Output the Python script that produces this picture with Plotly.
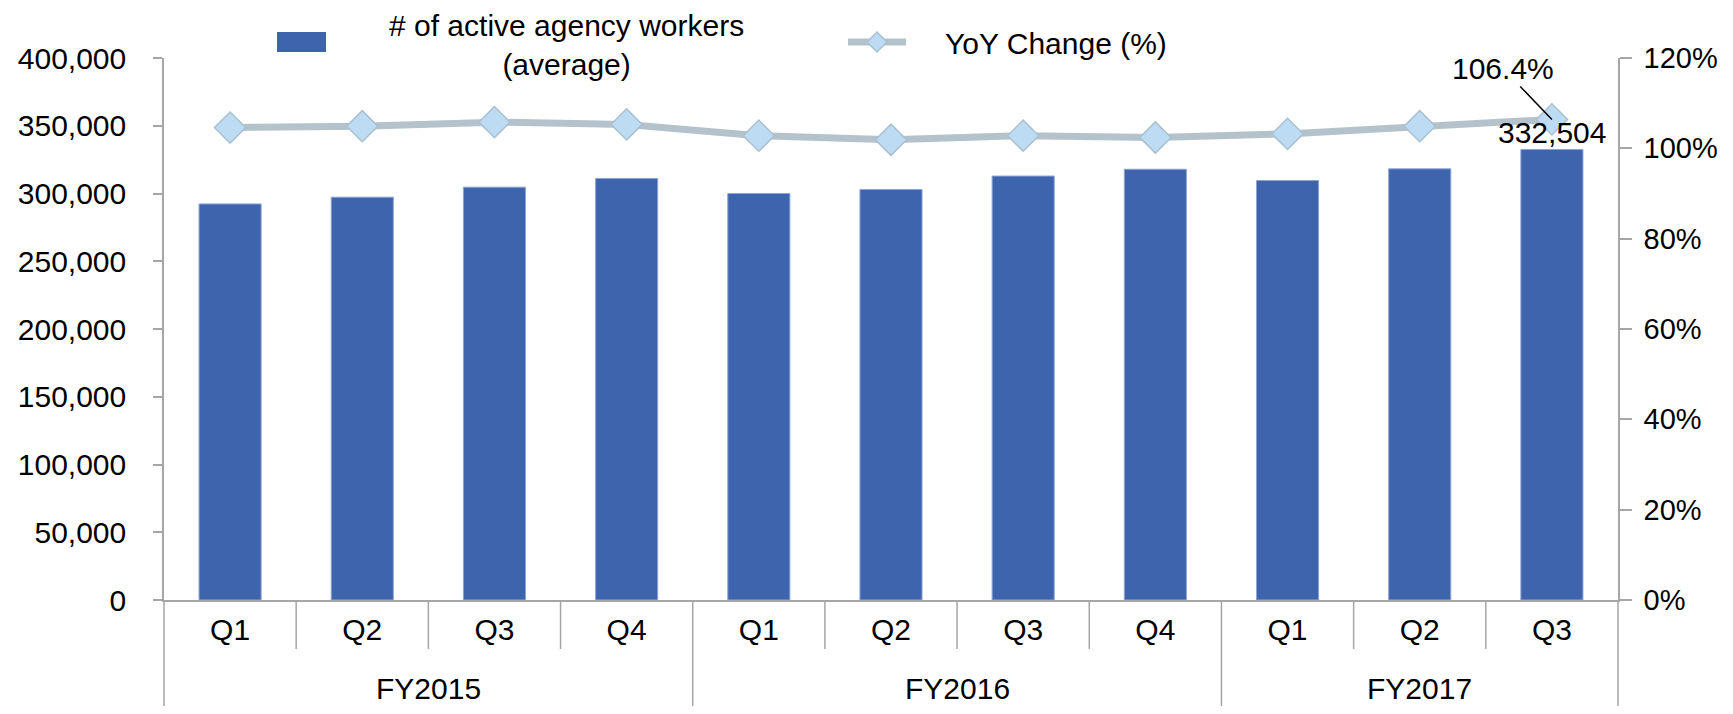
import plotly.graph_objects as go

# data
fiscal_years = ["FY2015", "FY2016", "FY2017"]
quarters = ["Q1", "Q2", "Q3", "Q4", "Q1", "Q2", "Q3", "Q4", "Q1", "Q2", "Q3"]
quarter_year = ["FY2015"] * 4 + ["FY2016"] * 4 + ["FY2017"] * 3
workers = [292300, 297300, 304700, 311100, 300000, 303000, 312900, 317900, 309600, 318200, 332504]
yoy_pct = [104.6, 104.9, 105.8, 105.3, 102.8, 101.9, 102.8, 102.4, 103.2, 104.9, 106.4]

bar_name = "# of active agency workers<br>(average)"
line_name = "YoY Change (%)"

# the page body has an 8px margin on every side: keep the figure inside
# the window so no scrollbars show up
OFF = 8
W, H = 1733 - 2 * OFF, 714 - 2 * OFF
L, T = 164 - OFF, 58 - OFF
PW, PH = 1454, 542
R, B = W - L - PW, H - T - PH

FONT = "Liberation Sans, Arial, sans-serif"
AXIS_GRAY = "#A6A6A6"
BAR_BLUE = "#3F64AE"
LINE_GRAY = "#B4C3CB"
DIAMOND_FILL = "#BDDCF4"
DIAMOND_EDGE = "#A9C0D0"


def px(x):
    """screen pixel x -> paper x"""
    return (x - OFF - L) / PW


def py(y):
    """screen pixel y -> paper y"""
    return (T + PH - (y - OFF)) / PH


idx = list(range(len(quarters)))

fig = go.Figure()

fig.add_trace(go.Bar(
    x=idx, y=workers, name=bar_name, width=0.47,
    marker=dict(color=BAR_BLUE, line=dict(color="#8EA6D6", width=1)),
    showlegend=False,
))

fig.add_trace(go.Scatter(
    x=idx, y=yoy_pct, name=line_name, yaxis="y2", mode="lines+markers",
    line=dict(color=LINE_GRAY, width=7),
    marker=dict(symbol="diamond", size=24, color=DIAMOND_FILL,
                line=dict(color=DIAMOND_EDGE, width=1.5)),
    showlegend=False, cliponaxis=False,
))

shapes = []
# quarter / fiscal year separators under the axis
for i in range(1, len(quarters)):
    year_change = quarter_year[i] != quarter_year[i - 1]
    shapes.append(dict(
        type="line", xref="x", yref="paper", x0=i - 0.5, x1=i - 0.5,
        y0=0, y1=py(714) if year_change else py(649),
        line=dict(color=AXIS_GRAY, width=1.5),
    ))
for edge in (0, 1):
    shapes.append(dict(
        type="line", xref="paper", yref="paper", x0=edge, x1=edge,
        y0=0, y1=py(714), line=dict(color=AXIS_GRAY, width=1.5),
    ))

# hand-made legend (wide swatches like the original)
shapes.append(dict(type="rect", xref="paper", yref="paper",
                   x0=px(277), x1=px(326), y0=py(52), y1=py(32),
                   fillcolor=BAR_BLUE, line=dict(width=0)))
shapes.append(dict(type="line", xref="paper", yref="paper",
                   x0=px(848), x1=px(906), y0=py(42), y1=py(42),
                   line=dict(color=LINE_GRAY, width=7)))
cx, cy, d = 877, 42, 10
diamond = (f"M {px(cx - d)},{py(cy)} L {px(cx)},{py(cy - d)} "
           f"L {px(cx + d)},{py(cy)} L {px(cx)},{py(cy + d)} Z")
shapes.append(dict(type="path", xref="paper", yref="paper", path=diamond,
                   fillcolor=DIAMOND_FILL, line=dict(color=DIAMOND_EDGE, width=1.5)))

annotations = [
    dict(xref="paper", yref="paper", x=px(566), y=py(45), text=bar_name,
         showarrow=False, align="center", xanchor="center", yanchor="middle",
         font=dict(size=30)),
    dict(xref="paper", yref="paper", x=px(943), y=py(43), text=line_name,
         showarrow=False, xanchor="left", yanchor="middle", font=dict(size=30)),
    # last point labels
    dict(xref="x", yref="y2", x=idx[-1], y=yoy_pct[-1], text=f"{yoy_pct[-1]:.1f}%",
         showarrow=True, arrowhead=0, arrowwidth=1.5, arrowcolor="black",
         ax=-49, ay=-51, standoff=0, font=dict(size=30)),
    dict(xref="x", yref="y", x=idx[-1], y=workers[-1], text=f"{workers[-1]:,}",
         showarrow=False, yanchor="bottom", yshift=-2, font=dict(size=30)),
]
# fiscal year labels centred under their quarters
for fy in fiscal_years:
    members = [i for i in idx if quarter_year[i] == fy]
    annotations.append(dict(
        xref="x", yref="paper", x=sum(members) / len(members), y=py(688),
        text=fy, showarrow=False, yanchor="middle", font=dict(size=30),
    ))

fig.update_layout(
    width=W, height=H,
    margin=dict(l=L, r=R, t=T, b=B),
    paper_bgcolor="white", plot_bgcolor="white",
    font=dict(family=FONT, size=30, color="black"),
    xaxis=dict(
        range=[-0.5, len(quarters) - 0.5], tickvals=idx, ticktext=quarters,
        showline=True, linecolor=AXIS_GRAY, linewidth=1.5, automargin=False,
        showgrid=False, zeroline=False, ticks="", ticklabelstandoff=2,
    ),
    yaxis=dict(
        range=[0, 400000], dtick=50000, tickformat=",d", automargin=False,
        showline=True, linecolor=AXIS_GRAY, linewidth=1.5,
        ticks="outside", ticklen=9, tickcolor=AXIS_GRAY, tickwidth=1.5,
        showgrid=False, zeroline=False, ticklabelstandoff=21,
    ),
    yaxis2=dict(
        range=[0, 120], dtick=20, ticksuffix="%", overlaying="y", side="right",
        showline=True, linecolor=AXIS_GRAY, linewidth=1.5, automargin=False,
        ticks="outside", ticklen=12, tickcolor=AXIS_GRAY, tickwidth=1.5,
        showgrid=False, zeroline=False, ticklabelstandoff=6,
        tickfont=dict(size=29),
    ),
    shapes=shapes,
    annotations=annotations,
    showlegend=False,
)

fig.write_html("out.html")
